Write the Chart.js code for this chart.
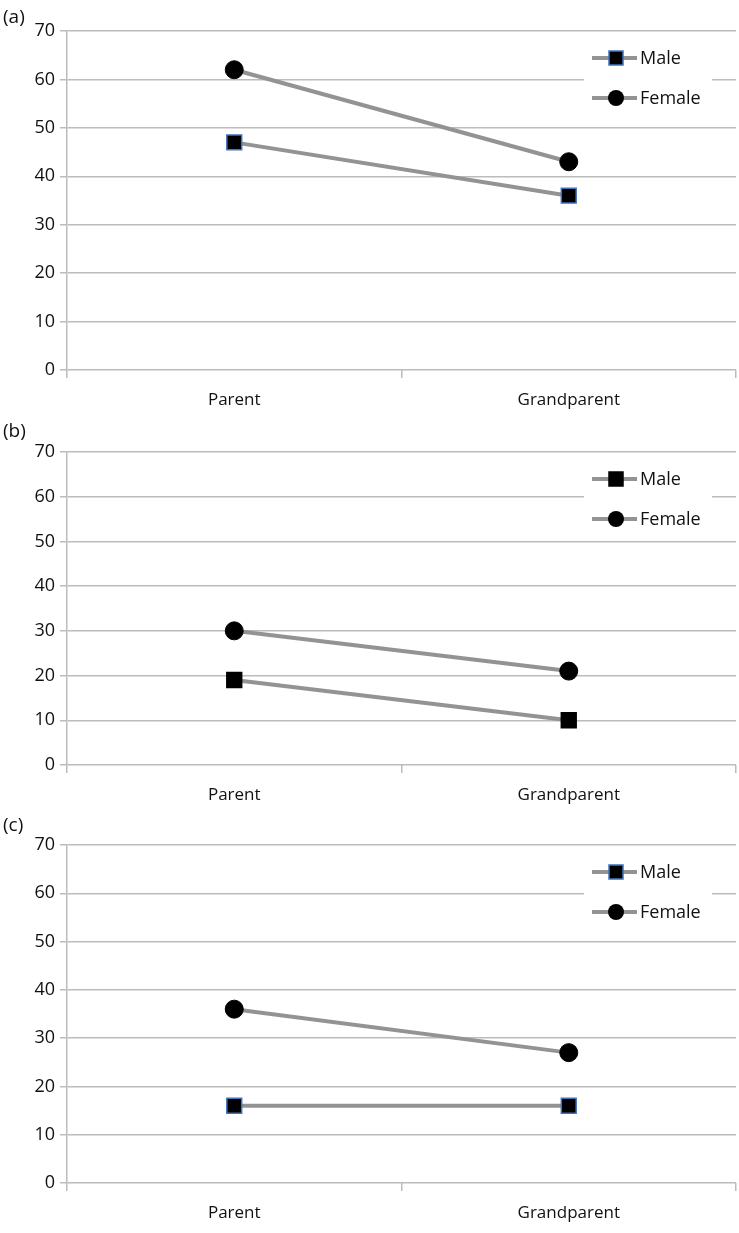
<!DOCTYPE html>
<html>
<head>
<meta charset="utf-8">
<script src="https://cdn.jsdelivr.net/npm/chart.js@4.4.0/dist/chart.umd.min.js"></script>
<style>
  body { margin: 0; background: #fff; width: 739px; height: 1233px; position: relative; overflow: hidden; }
  canvas { position: absolute; left: 0; }
</style>
</head>
<body>
<canvas id="panel_a" width="739" height="412" style="top:0px"></canvas>
<canvas id="panel_b" width="739" height="400" style="top:412px"></canvas>
<canvas id="panel_c" width="739" height="421" style="top:812px"></canvas>
<script>
// Datos de las tres gráficas
const categorias = ['Parent', 'Grandparent'];
const etiquetasY = [0, 10, 20, 30, 40, 50, 60, 70];

const maleA = [47, 36];
const femaleA = [62, 43];

const maleB = [19, 10];
const femaleB = [30, 21];

const maleC = [16, 16];
const femaleC = [36, 27];

const FUENTE = "'Open Sans', 'Noto Sans', sans-serif";
const GRIS_LINEA = '#939393';
const GRIS_REJILLA = '#bcbcbc';

// Plugin para la leyenda tipo Excel y la letra del panel
const leyendaPanel = {
    id: 'leyendaPanel',
    afterDraw(chart, args, opts) {
        const ctx = chart.ctx;
        const area = chart.chartArea;
        ctx.save();

        // letra del panel
        ctx.fillStyle = '#111';
        ctx.font = '19px ' + FUENTE;
        ctx.textBaseline = 'middle';
        ctx.textAlign = 'left';
        ctx.fillText(opts.letra, 3, opts.letraY);

        // caja blanca de la leyenda
        const top = area.top + 6;
        ctx.fillStyle = '#fff';
        ctx.fillRect(584, top, 128, 80);

        const filas = [
            { y: area.top + 27, tipo: 'rect', borde: opts.bordeMale, texto: 'Male' },
            { y: area.top + 67, tipo: 'circle', borde: '#000', texto: 'Female' }
        ];
        filas.forEach(f => {
            ctx.strokeStyle = GRIS_LINEA;
            ctx.lineWidth = 4;
            ctx.beginPath();
            ctx.moveTo(592, f.y);
            ctx.lineTo(637, f.y);
            ctx.stroke();

            ctx.fillStyle = '#000';
            if (f.tipo === 'rect') {
                ctx.fillRect(609, f.y - 7, 14, 14);
                ctx.strokeStyle = f.borde;
                ctx.lineWidth = 1.5;
                ctx.strokeRect(609, f.y - 7, 14, 14);
            } else {
                ctx.beginPath();
                ctx.arc(616, f.y, 8, 0, Math.PI * 2);
                ctx.fill();
            }

            ctx.fillStyle = '#111';
            ctx.font = '18px ' + FUENTE;
            ctx.textBaseline = 'middle';
            ctx.fillText(f.texto, 640, f.y + 1);
        });
        ctx.restore();
    }
};

function dibujarPanel(id, male, female, letra, letraY, areaTop, areaBottom, bordeMale) {
    const canvas = document.getElementById(id);
    const ctx = canvas.getContext('2d');
    const alturaX = canvas.height - areaBottom;

    new Chart(ctx, {
        type: 'line',
        data: {
            labels: categorias,
            datasets: [{
                label: 'Male',
                data: male,
                borderColor: GRIS_LINEA,
                borderWidth: 4,
                pointStyle: 'rect',
                pointRadius: 10.5,
                pointBackgroundColor: '#000',
                pointBorderColor: bordeMale,
                pointBorderWidth: 1.5
            }, {
                label: 'Female',
                data: female,
                borderColor: GRIS_LINEA,
                borderWidth: 4,
                pointStyle: 'circle',
                pointRadius: 9,
                pointBackgroundColor: '#000',
                pointBorderColor: '#000',
                pointBorderWidth: 1
            }]
        },
        options: {
            responsive: false,
            animation: false,
            events: [],
            layout: {
                autoPadding: false,
                padding: { top: areaTop, right: 3, left: 0, bottom: 0 }
            },
            plugins: {
                legend: { display: false },
                tooltip: { enabled: false },
                leyendaPanel: { letra: letra, letraY: letraY, bordeMale: bordeMale }
            },
            scales: {
                x: {
                    type: 'category',
                    offset: true,
                    afterFit: scale => {
                        scale.height = alturaX;
                        scale.paddingLeft = 0;
                        scale.paddingRight = 0;
                    },
                    grid: {
                        offset: true,
                        drawOnChartArea: false,
                        drawTicks: true,
                        tickLength: 8,
                        color: GRIS_REJILLA,
                        lineWidth: 1.5
                    },
                    border: { display: false },
                    ticks: {
                        color: '#111',
                        padding: 12,
                        font: { family: FUENTE, size: 17 }
                    }
                },
                y: {
                    min: 0,
                    max: 70,
                    afterFit: scale => { scale.width = 67; },
                    afterBuildTicks: scale => {
                        scale.ticks = etiquetasY.map(v => ({ value: v }));
                    },
                    grid: {
                        color: GRIS_REJILLA,
                        lineWidth: 1.5,
                        drawTicks: true,
                        tickLength: 7
                    },
                    border: { display: true, color: GRIS_REJILLA, width: 1.5 },
                    ticks: {
                        color: '#111',
                        padding: 5,
                        font: { family: FUENTE, size: 18 }
                    }
                }
            }
        },
        plugins: [leyendaPanel]
    });
}

dibujarPanel('panel_a', maleA, femaleA, '(a)', 18, 31, 370, '#3f73bd');
dibujarPanel('panel_b', maleB, femaleB, '(b)', 20, 40, 353, '#000');
dibujarPanel('panel_c', maleC, femaleC, '(c)', 14, 33, 371, '#3f73bd');
</script>
</body>
</html>
